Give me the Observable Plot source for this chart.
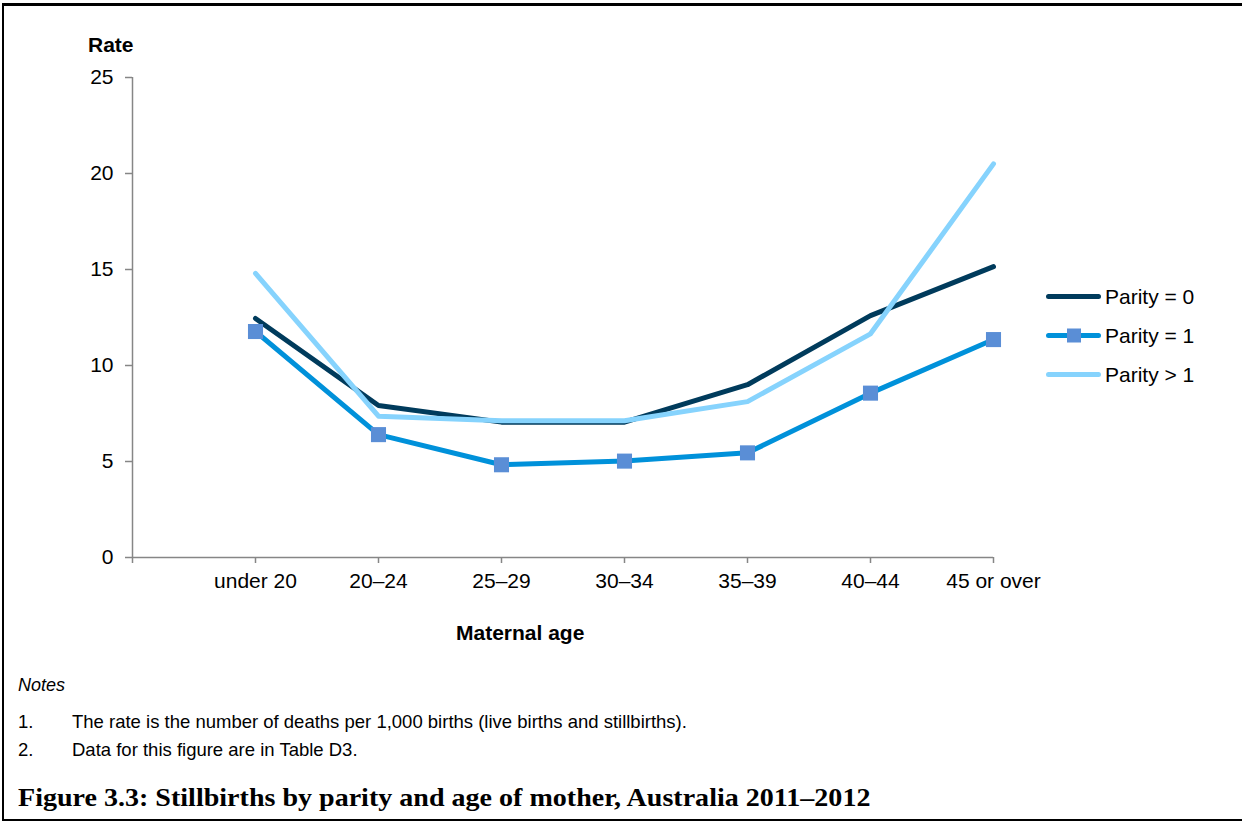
<!DOCTYPE html>
<html>
<head>
<meta charset="utf-8">
<script src="https://cdn.jsdelivr.net/npm/d3@7"></script>
<script src="https://cdn.jsdelivr.net/npm/@observablehq/plot@0.6"></script>
<style>
  html, body { margin: 0; padding: 0; background: #fff; overflow: hidden; }
  body { width: 1242px; height: 823px; position: relative; font-family: "Liberation Sans", Arial, sans-serif; color: #000; }
  .bline { position: absolute; background: #000; }
  #chart { position: absolute; left: 0; top: 0; }
  .abs { position: absolute; white-space: nowrap; }
  #ylabel { left: 88px; top: 34px; font-size: 21px; line-height: 21px; font-weight: bold; }
  #xlabel { left: 456px; top: 622px; font-size: 21px; line-height: 21px; font-weight: bold; }
  #legend { left: 1046px; top: 0; }
  .leg { position: absolute; left: 0; height: 21px; display: flex; align-items: center; font-size: 21px; line-height: 21px; }
  .leg svg { margin-right: 4px; }
  #notes { left: 18px; top: 676px; font-size: 18px; line-height: 18px; font-style: italic; }
  .note { font-size: 18.5px; line-height: 18px; }
  .note .num { position: absolute; left: 0; }
  .note .txt { position: absolute; left: 54px; }
  #caption { left: 18px; top: 785px; font-family: "Liberation Serif", "Times New Roman", serif; font-weight: bold; font-size: 25.5px; line-height: 25px; transform: scaleX(1.1); transform-origin: 0 50%; }
</style>
</head>
<body>
<div class="bline" style="left:2px; top:3px; width:1240px; height:3px;"></div>
<div class="bline" style="left:2px; top:3px; width:2px; height:818px;"></div>
<div class="bline" style="left:2px; top:819px; width:1240px; height:2px;"></div>
<div id="chart"></div>
<div id="ylabel" class="abs">Rate</div>
<div id="xlabel" class="abs">Maternal age</div>
<div id="legend" class="abs"></div>
<div id="notes" class="abs">Notes</div>
<div class="abs note" style="left:18px; top:713px; width:900px;"><span class="num">1.</span><span class="txt">The rate is the number of deaths per 1,000 births (live births and stillbirths).</span></div>
<div class="abs note" style="left:18px; top:741px; width:900px;"><span class="num">2.</span><span class="txt">Data for this figure are in Table D3.</span></div>
<div id="caption" class="abs">Figure 3.3: Stillbirths by parity and age of mother, Australia 2011–2012</div>
<script>
// ---- Data ----
const ages = ["under 20", "20–24", "25–29", "30–34", "35–39", "40–44", "45 or over"];
const seriesNames = ["Parity = 0", "Parity = 1", "Parity > 1"];
const parity0 = [12.45, 7.92, 7.05, 7.05, 9.0, 12.6, 15.15];
const parity1 = [11.77, 6.4, 4.83, 5.02, 5.45, 8.56, 11.35];
const parityGt1 = [14.8, 7.36, 7.12, 7.12, 8.12, 11.65, 20.5];
const yTicks = [0, 5, 10, 15, 20, 25];

// ---- Styles ----
const lineColors = ["#003B5C", "#0091DA", "#86D3FD"];
const markerColor = "#5A8ED6";
const axisColor = "#868686";
const blankSlot = " ";

const allSeries = [parity0, parity1, parityGt1];
const rows = [];
allSeries.forEach((vals, si) => {
  vals.forEach((v, i) => rows.push({series: seriesNames[si], age: ages[i], rate: v}));
});
const p1Rows = rows.filter(d => d.series === "Parity = 1");

const plot = Plot.plot({
  width: 1242,
  height: 600,
  marginLeft: 132,
  marginRight: 249,
  marginTop: 77,
  marginBottom: 43,
  style: {fontFamily: "'Liberation Sans', Arial, sans-serif", fontSize: "21px", color: "#000", background: "transparent"},
  x: {type: "point", domain: [blankSlot, ...ages], padding: 0, label: null},
  y: {domain: [0, 25], label: null},
  color: {domain: seriesNames, range: lineColors},
  marks: [
    Plot.ruleY([0], {stroke: axisColor, strokeWidth: 1.5}),
    Plot.ruleX([blankSlot], {stroke: axisColor, strokeWidth: 1.5}),
    Plot.axisX({tickSize: 6, tickPadding: 10, stroke: axisColor, strokeWidth: 1.5, tickFormat: d => d === blankSlot ? "" : d, fill: "#000"}),
    Plot.axisY({ticks: yTicks, tickSize: 7, tickPadding: 12, stroke: axisColor, strokeWidth: 1.5, fill: "#000"}),
    Plot.line(rows, {x: "age", y: "rate", z: "series", stroke: "series", strokeWidth: 5, strokeLinecap: "round", strokeLinejoin: "round"}),
    Plot.dot(p1Rows, {x: "age", y: "rate", symbol: "square", r: 8.5, fill: markerColor, stroke: null})
  ]
});
document.getElementById("chart").appendChild(plot);

// ---- Legend ----
const legend = document.getElementById("legend");
const legendTops = [286, 325, 364];
seriesNames.forEach((name, i) => {
  const item = document.createElement("div");
  item.className = "leg";
  item.style.top = legendTops[i] + "px";
  const marker = i === 1 ? `<rect x="21" y="3.5" width="14" height="14" fill="${markerColor}"/>` : "";
  item.innerHTML = `<svg width="55" height="21"><line x1="2.5" x2="52.5" y1="10.5" y2="10.5" stroke="${lineColors[i]}" stroke-width="5" stroke-linecap="round"/>${marker}</svg><span>${name}</span>`;
  legend.appendChild(item);
});
</script>
</body>
</html>
